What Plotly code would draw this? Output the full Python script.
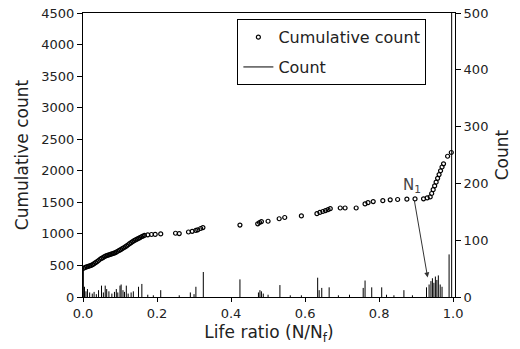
import plotly.graph_objects as go

# Cumulative count (left axis)
cum_x = [0.002, 0.006, 0.010, 0.014, 0.018, 0.022, 0.026, 0.030, 0.034, 0.038,
         0.042, 0.046, 0.050, 0.054, 0.058, 0.062, 0.066, 0.070, 0.074, 0.078,
         0.082, 0.086, 0.090, 0.094, 0.098, 0.102, 0.106, 0.110, 0.114, 0.118,
         0.122, 0.126, 0.130, 0.134, 0.138, 0.142, 0.146, 0.150, 0.154, 0.158,
         0.162, 0.166, 0.175, 0.185, 0.195, 0.210, 0.250, 0.260, 0.285, 0.295,
         0.305, 0.310, 0.318, 0.324, 0.424, 0.472, 0.477, 0.482, 0.500, 0.530,
         0.545, 0.590, 0.632, 0.640, 0.648, 0.655, 0.662, 0.668, 0.695, 0.708,
         0.738, 0.762, 0.770, 0.784, 0.810, 0.830, 0.850, 0.875, 0.897, 0.920,
         0.930, 0.938, 0.942, 0.946, 0.950, 0.954, 0.958, 0.962, 0.966, 0.970,
         0.974, 0.985, 0.995]
cum_y = [455, 470, 478, 485, 492, 500, 512, 528, 545, 560,
         578, 598, 612, 625, 640, 652, 660, 668, 675, 684,
         690, 700, 712, 725, 738, 752, 766, 780, 795, 810,
         828, 845, 862, 878, 892, 905, 918, 930, 942, 955,
         965, 975, 985, 990, 992, 1000, 1010, 1005, 1030, 1040,
         1055, 1065, 1085, 1100, 1140, 1160, 1180, 1195, 1200, 1240,
         1260, 1285, 1320, 1340, 1355, 1370, 1385, 1400, 1410, 1410,
         1410, 1475, 1495, 1512, 1527, 1540, 1545, 1550, 1554, 1555,
         1570, 1585, 1640, 1700, 1760, 1820, 1880, 1940, 2000, 2060,
         2110, 2230, 2290]

# Count (right axis)
cnt_x = [0.001, 0.004, 0.008, 0.012, 0.018, 0.025, 0.030, 0.036, 0.042, 0.050,
         0.055, 0.060, 0.064, 0.070, 0.078, 0.085, 0.090, 0.094, 0.100, 0.103,
         0.108, 0.112, 0.117, 0.122, 0.130, 0.136, 0.150, 0.159, 0.175, 0.190,
         0.210, 0.260, 0.290, 0.300, 0.305, 0.325, 0.424, 0.474, 0.478, 0.482,
         0.487, 0.500, 0.532, 0.560, 0.590, 0.634, 0.638, 0.645, 0.665, 0.690,
         0.720, 0.757, 0.762, 0.780, 0.807, 0.820, 0.840, 0.867, 0.890, 0.928,
         0.935, 0.940, 0.944, 0.948, 0.952, 0.956, 0.960, 0.965, 0.970, 0.989,
         0.996]
cnt_y = [52, 18, 10, 14, 8, 6, 9, 5, 12, 20,
         8, 20, 14, 10, 6, 9, 14, 8, 20, 22,
         12, 9, 20, 6, 8, 10, 18, 23, 4, 3,
         12, 3, 8, 5, 18, 44, 31, 8, 12, 10,
         6, 4, 21, 3, 3, 34, 12, 16, 17, 3,
         4, 16, 29, 17, 17, 4, 3, 12, 3, 17,
         22, 28, 33, 25, 36, 30, 38, 22, 18, 75,
         500]

x_ticks = [0.0, 0.2, 0.4, 0.6, 0.8, 1.0]
x_tick_labels = ["0.0", "0.2", "0.4", "0.6", "0.8", "1.0"]
y_ticks = list(range(0, 4501, 500))
y2_ticks = list(range(0, 501, 100))

# build vertical stick segments from the count arrays
seg_x, seg_y = [], []
for xv, hv in zip(cnt_x, cnt_y):
    seg_x += [xv, xv, None]
    seg_y += [0, hv, None]

FONT = "DejaVu Sans"
TXT = "#222222"

fig = go.Figure()
fig.add_trace(go.Scatter(
    x=cum_x, y=cum_y, mode="markers", name="Cumulative count", legendgroup="a",
    marker=dict(symbol="circle-open", size=4, color="black", line=dict(width=1.2, color="black")),
))
fig.add_trace(go.Scatter(
    x=seg_x, y=seg_y, mode="lines", name="Count", yaxis="y2", legendgroup="b",
    line=dict(color="black", width=1), connectgaps=False,
))

fig.add_annotation(
    x=0.932, y=31, xref="x", yref="y2",
    ax=0.888, ay=197, axref="x", ayref="y2",
    text="N<sub>1</sub>", showarrow=True, arrowhead=2, arrowsize=1, arrowwidth=1,
    standoff=2, startstandoff=4,
    arrowcolor="#333333", font=dict(family=FONT, size=15, color="#444444"),
)

fig.update_layout(
    width=520, height=349,
    margin=dict(l=83, r=65, t=13, b=52, autoexpand=False),
    paper_bgcolor="white", plot_bgcolor="white",
    font=dict(family=FONT, color=TXT, size=13),
    showlegend=True,
    legend=dict(
        x=0.415, y=0.978, xanchor="left", yanchor="top",
        bordercolor="black", borderwidth=1, bgcolor="white",
        font=dict(family=FONT, size=16, color=TXT),
        itemwidth=30, tracegroupgap=6,
    ),
    xaxis=dict(
        range=[0, 1.005], tickvals=x_ticks, ticktext=x_tick_labels,
        showline=True, linecolor="black", linewidth=1, mirror=True,
        ticks="outside", ticklen=4, tickcolor="black", showgrid=False, zeroline=False,
        tickfont=dict(family=FONT, size=13, color=TXT),
        title=dict(text="Life ratio (N/N<sub>f</sub>)", font=dict(family=FONT, size=17, color=TXT), standoff=6),
    ),
    yaxis=dict(
        range=[0, 4500], tickvals=y_ticks,
        showline=True, linecolor="black", linewidth=1,
        ticks="outside", ticklen=5, tickcolor="black", showgrid=False, zeroline=False,
        tickfont=dict(family=FONT, size=13, color=TXT),
        title=dict(text="Cumulative count", font=dict(family=FONT, size=17, color=TXT), standoff=8),
    ),
    yaxis2=dict(
        range=[0, 500], tickvals=y2_ticks, overlaying="y", side="right",
        showline=True, linecolor="black", linewidth=1,
        ticks="outside", ticklen=5, tickcolor="black", showgrid=False, zeroline=False,
        tickfont=dict(family=FONT, size=13, color=TXT),
        title=dict(text="Count", font=dict(family=FONT, size=17, color=TXT), standoff=8),
    ),
)

fig.write_html("out.html")
